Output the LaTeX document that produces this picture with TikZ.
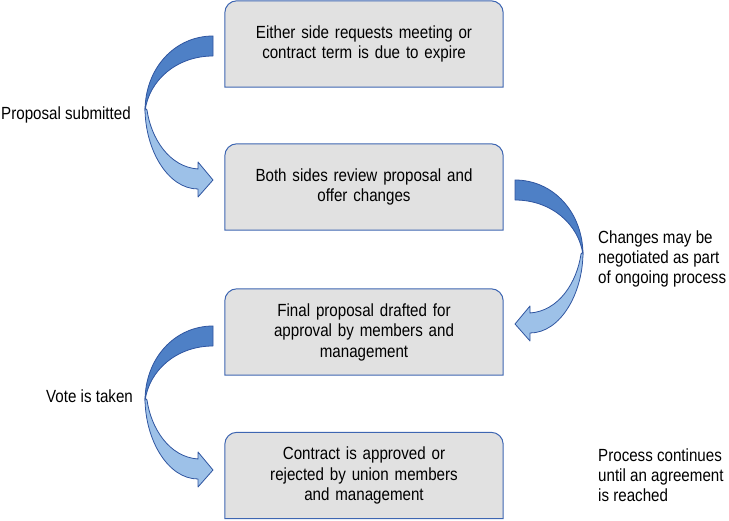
\documentclass[tikz,border=0pt]{standalone}
\usepackage{fontspec}
\setmainfont{Liberation Sans}[FakeStretch=0.86]
\usetikzlibrary{calc,backgrounds}
\definecolor{boxgray}{RGB}{225,225,225}
\definecolor{boxblue}{RGB}{62,102,178}
\definecolor{arrdark}{RGB}{78,128,198}
\definecolor{arrlight}{RGB}{157,193,232}
\definecolor{arrline}{RGB}{47,85,160}
\tikzset{
  boxtext/.style={text width=262pt, align=center, minimum width=278pt, minimum height=86pt,
    inner sep=0pt, font=\fontsize{17.6}{20.5}\selectfont},
  boxline/.style={draw=boxblue, fill=boxgray, line width=1pt},
  sidelabel/.style={align=left, anchor=west, inner sep=0pt, font=\fontsize{17.6}{20}\selectfont},
  darkpart/.style={fill=arrdark, draw=arrline, line width=0.8pt, line join=round},
  lightpart/.style={fill=arrlight, draw=arrline, line width=0.8pt, line join=round}
}
\newcommand\curvedarrowshape{%
  \draw[darkpart] (0,0) .. controls (-38,0) and (-68,32) .. (-68,75)
     .. controls (-64,44) and (-36,20) .. (0,20) -- cycle;
  \draw[lightpart] (-68,72) .. controls (-68,114) and (-45,153) .. (-15,153)
     -- (-15,161) -- (0,144) -- (-15,126) -- (-15,133)
     .. controls (-44,131) and (-62,102) .. (-66,74) -- cycle;
}
\newcommand\topround[1]{%
  \draw[boxline] let \p1=(#1.south west), \p2=(#1.north east) in
    (\x1,\y1) -- (\x1,\y2-12pt) arc[start angle=180,end angle=90,radius=12pt]
    -- (\x2-12pt,\y2) arc[start angle=90,end angle=0,radius=12pt]
    -- (\x2,\y1) -- cycle;
}
\begin{document}
\begin{tikzpicture}[x=1pt,y=1pt]
\useasboundingbox (0,0) rectangle (729,520);
\node[boxtext] (b1) at (364,476) {Either side requests meeting or\\contract term is due to expire};
\node[boxtext] (b2) at (364,333) {Both sides review proposal and\\offer changes};
\node[boxtext] (b3) at (364,188) {Final proposal drafted for\\approval by members and\\management};
\node[boxtext] (b4) at (364,44.5) {Contract is approved or\\rejected by union members\\and management};
\begin{scope}[on background layer]
  \topround{b1}
  \topround{b2}
  \topround{b3}
  \topround{b4}
\end{scope}
\begin{scope}[shift={(213,484)}, yscale=-1]
  \curvedarrowshape
\end{scope}
\begin{scope}[shift={(515,340)}, xscale=-1, yscale=-1]
  \curvedarrowshape
\end{scope}
\begin{scope}[shift={(213,194)}, yscale=-1]
  \curvedarrowshape
\end{scope}
\node[sidelabel] (l1) at (1,405) {Proposal submitted};
\node[sidelabel] (l2) at (598,261) {Changes may be\\negotiated as part\\of ongoing process};
\node[sidelabel] (l3) at (46,124) {Vote is taken};
\node[sidelabel] (l4) at (598,45) {Process continues\\until an agreement\\is reached};
\end{tikzpicture}
\end{document}
